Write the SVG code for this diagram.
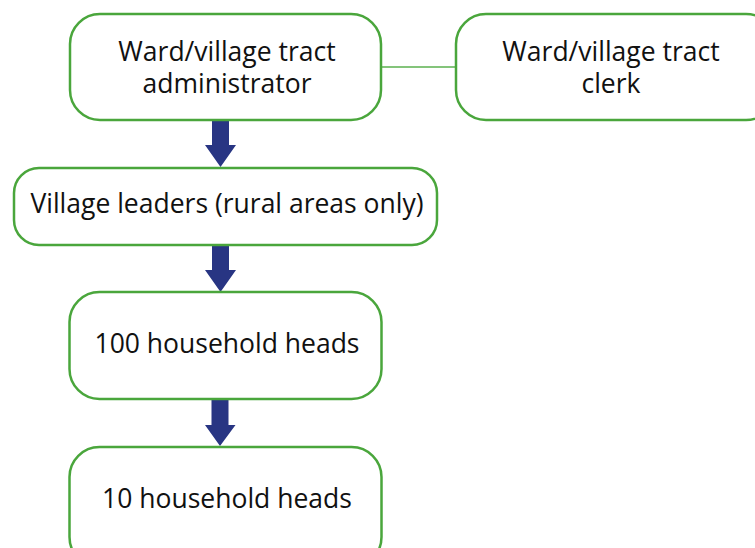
<svg xmlns="http://www.w3.org/2000/svg" width="755" height="548" viewBox="0 0 755 548">
<style>
.box{fill:#ffffff;stroke:#4aa63c;stroke-width:2.5}
.t{font-family:"Open Sans","Noto Sans",sans-serif;font-size:26.5px;fill:#111111;text-anchor:middle}
.arr{fill:#283583}
.link{stroke:#5bb04f;stroke-width:1.3;fill:none}
</style>
<rect width="755" height="548" fill="#ffffff"/>
<g id="connectors">
<line class="link" x1="381" y1="67" x2="456" y2="67"/>
<polygon class="arr" points="212,120 229,120 229,145 236,145 220.5,167 205,145 212,145"/>
<polygon class="arr" points="212,245 229,245 229,270 236,270 220.5,292 205,270 212,270"/>
<polygon class="arr" points="211.5,399 228.5,399 228.5,425 235.5,425 220,446 205,425 211.5,425"/>
</g>
<g id="administrator">
<rect class="box" x="70" y="14" width="311" height="106" rx="30"/>
<text class="t" x="227" y="61">Ward/village tract</text>
<text class="t" x="227" y="92.5">administrator</text>
</g>
<g id="clerk">
<rect class="box" x="456" y="14" width="320" height="106" rx="30"/>
<text class="t" x="611" y="61">Ward/village tract</text>
<text class="t" x="611" y="92.5">clerk</text>
</g>
<g id="village-leaders">
<rect class="box" x="14" y="168" width="423" height="77" rx="25"/>
<text class="t" x="227" y="213">Village leaders (rural areas only)</text>
</g>
<g id="hh100">
<rect class="box" x="69.5" y="292" width="312" height="107" rx="30"/>
<text class="t" x="227" y="352.5">100 household heads</text>
</g>
<g id="hh10">
<rect class="box" x="69.5" y="447" width="312" height="120" rx="30"/>
<text class="t" x="227" y="508">10 household heads</text>
</g>
</svg>
